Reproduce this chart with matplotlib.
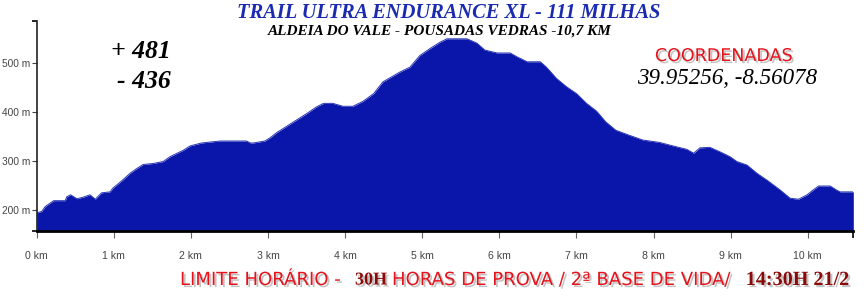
import matplotlib
matplotlib.use("Agg")
import matplotlib.pyplot as plt
import matplotlib.patheffects as pe
from matplotlib.font_manager import fontManager

# ---- data ----
dist_km = [0, 0.065, 0.11, 0.22, 0.37, 0.39, 0.44, 0.52, 0.60, 0.69, 0.76, 0.84, 0.95, 0.99,
           1.06, 1.12, 1.21, 1.30, 1.38, 1.51, 1.64, 1.73, 1.82, 1.90, 1.99, 2.14, 2.38, 2.72,
           2.77, 2.81, 2.96, 3.03, 3.11, 3.24, 3.37, 3.50, 3.63, 3.72, 3.84, 3.97, 4.10, 4.23,
           4.37, 4.49, 4.71, 4.84, 4.97, 5.10, 5.23, 5.32, 5.58, 5.71, 5.81, 5.97, 6.14, 6.23,
           6.36, 6.53, 6.61, 6.74, 6.87, 7.00, 7.13, 7.26, 7.38, 7.51, 7.68, 7.86, 8.08, 8.25,
           8.43, 8.52, 8.60, 8.73, 8.86, 8.99, 9.08, 9.21, 9.34, 9.47, 9.64, 9.77, 9.88, 9.99,
           10.07, 10.14, 10.29, 10.37, 10.42, 10.59]
elev_m = [194, 197, 207, 219, 219, 227, 231, 223, 226, 231, 222, 235, 237, 245,
          254, 262, 275, 285, 293, 295, 299, 309, 316, 322, 331, 337, 341, 341,
          337, 337, 341, 348, 358, 371, 384, 397, 411, 418, 418, 412, 412, 422,
          438, 462, 482, 492, 516, 530, 543, 550, 550, 541, 527, 521, 521, 513,
          503, 503, 492, 469, 452, 438, 418, 402, 380, 363, 353, 343, 338, 331,
          324, 316, 327, 328, 319, 309, 299, 292, 275, 261, 241, 224, 222, 231,
          241, 249, 249, 241, 237, 237]
x_ticks = [0, 1, 2, 3, 4, 5, 6, 7, 8, 9, 10]
x_labels = [f"{v} km" for v in x_ticks]
y_ticks = [200, 300, 400, 500]
y_labels = [f"{v} m" for v in y_ticks]

title = "TRAIL ULTRA ENDURANCE XL - 111 MILHAS"
subtitle = "ALDEIA DO VALE - POUSADAS VEDRAS -10,7 KM"
gain_text = "+ 481"
loss_text = "- 436"
coord_title = "COORDENADAS"
coord_text = "39.95256, -8.56078"
foot_parts = ["LIMITE HORÁRIO -", "30H", "HORAS DE PROVA / 2ª BASE DE VIDA/", "14:30H 21/2"]

names = {f.name for f in fontManager.ttflist}
tick_family = ['Liberation Sans Narrow', 'DejaVu Sans'] if 'Liberation Sans Narrow' in names else ['Liberation Sans', 'DejaVu Sans']

W, H = 864, 300
fig = plt.figure(figsize=(W / 100, H / 100), dpi=100)
fig.patch.set_facecolor('white')

def fx(px):
    return px / W

def fy(py):
    return 1 - py / H

ax = fig.add_axes([fx(36.7), fy(231), fx(853.3) - fx(36.7), fy(20.7) - fy(231)])
ymin, ymax = 157, 587
xmax = 10.59
ax.fill_between(dist_km, elev_m, ymin, color='#0a15aa', linewidth=0)
ax.plot(dist_km, elev_m, color='#2a36b8', linewidth=0.7)
ax.set_xlim(0, xmax)
ax.set_ylim(ymin, ymax)
ax.set_facecolor('white')

for s in ['top', 'right']:
    ax.spines[s].set_visible(False)
ax.spines['left'].set_color('#222222')
ax.spines['left'].set_linewidth(1.2)
ax.spines['bottom'].set_color('black')
ax.spines['bottom'].set_linewidth(2)

ax.set_xticks(x_ticks)
ax.set_xticklabels(x_labels)
ax.set_yticks(y_ticks)
ax.set_yticklabels(y_labels)
ax.set_xticks([xmax], minor=True)
ax.set_yticks([ymin, ymax], minor=True)
ax.tick_params(axis='x', which='major', length=5, width=0.8, color='#666666', pad=9.5,
               labelsize=7.6, labelcolor='#444444')
ax.tick_params(axis='x', which='minor', length=5, width=1.2, color='black')
ax.tick_params(axis='y', which='major', length=3.6, width=0.8, color='#444444', pad=1.2,
               labelsize=7.3, labelcolor='#444444')
ax.tick_params(axis='y', which='minor', length=3.6, width=1.2, color='black')
for lab in ax.get_xticklabels() + ax.get_yticklabels():
    lab.set_family(tick_family)

# ---- texts ----
fig.text(fx(449), fy(13), title, ha='center', va='center', fontsize=14.8,
         family='Liberation Serif', weight='bold', style='italic', color='#1a2bb0')
fig.text(fx(440), fy(31), subtitle, ha='center', va='center', fontsize=11,
         family='Liberation Serif', weight='bold', style='italic', color='black')
fig.text(fx(171), fy(52), gain_text, ha='right', va='center', fontsize=18.5,
         family='Liberation Serif', weight='bold', style='italic', color='black')
fig.text(fx(171), fy(82), loss_text, ha='right', va='center', fontsize=18.5,
         family='Liberation Serif', weight='bold', style='italic', color='black')

shadow = [pe.withSimplePatchShadow(offset=(1.5, -1.5), shadow_rgbFace='#888888', alpha=0.5)]
fig.text(fx(724), fy(56), coord_title, ha='center', va='center', fontsize=12.6,
         family='DejaVu Sans', color='#e5121b', path_effects=shadow)
fig.text(fx(727), fy(78), coord_text, ha='center', va='center', fontsize=16.6,
         family='Liberation Serif', style='italic', color='black')

foot_y = fy(280)
fig.text(fx(180), foot_y, foot_parts[0], ha='left', va='center', fontsize=13,
         family='DejaVu Sans', color='#e5121b', path_effects=shadow)
fig.text(fx(355), foot_y, foot_parts[1], ha='left', va='center', fontsize=13,
         family='Liberation Serif', weight='bold', color='#8a0a0a', path_effects=shadow)
fig.text(fx(392), foot_y, foot_parts[2], ha='left', va='center', fontsize=13,
         family='DejaVu Sans', color='#e5121b', path_effects=shadow)
fig.text(fx(849), foot_y, foot_parts[3], ha='right', va='center', fontsize=14.5,
         family='Liberation Serif', weight='bold', color='#8a0a0a', path_effects=shadow)

fig.savefig('out.png', dpi=100, facecolor=fig.get_facecolor())
